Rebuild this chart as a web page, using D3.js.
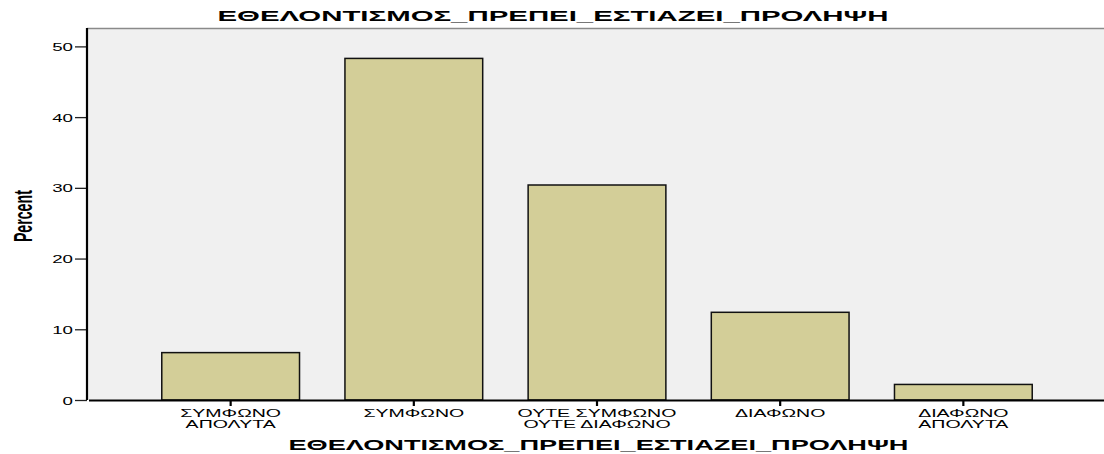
<!DOCTYPE html>
<html>
<head>
<meta charset="utf-8">
<script src="https://cdn.jsdelivr.net/npm/d3@7"></script>
<style>
  body { margin: 0; background: #fff; }
  text { font-family: "Liberation Sans", Arial, sans-serif; fill: #000; }
</style>
</head>
<body>
<div id="wrapper"></div>
<script>
const categories = [
  ["ΣΥΜΦΩΝΟ", "ΑΠΟΛΥΤΑ"],
  ["ΣΥΜΦΩΝΟ"],
  ["ΟΥΤΕ ΣΥΜΦΩΝΟ", "ΟΥΤΕ ΔΙΑΦΩΝΟ"],
  ["ΔΙΑΦΩΝΟ"],
  ["ΔΙΑΦΩΝΟ", "ΑΠΟΛΥΤΑ"],
];
const percents = [6.7, 48.3, 30.4, 12.4, 2.2];
const yTicks = [0, 10, 20, 30, 40, 50];
const chartTitle = "ΕΘΕΛΟΝΤΙΣΜΟΣ_ΠΡΕΠΕΙ_ΕΣΤΙΑΖΕΙ_ΠΡΟΛΗΨΗ";
const yLabel = "Percent";

function drawBarChart() {
  //* Step 1. Access data
  const dataset = categories.map((c, i) => ({ key: c.join(" / "), lines: c, value: percents[i] }));
  const xAccessor = (d) => d.key;
  const yAccessor = (d) => d.value;

  //* Step 2. Chart dimensions
  const dimensions = {
    width: 1104,
    height: 454,
    margin: { top: 28, right: 0, bottom: 54, left: 87 },
  };
  dimensions.boundedWidth = dimensions.width - dimensions.margin.left - dimensions.margin.right;
  dimensions.boundedHeight = dimensions.height - dimensions.margin.top - dimensions.margin.bottom;

  // the original export is stretched sideways, so text is too
  const stretch = 1.7;

  //* Step 3. Draw canvas
  const wrapper = d3.select("#wrapper")
    .append("svg")
    .attr("width", dimensions.width)
    .attr("height", dimensions.height);

  const bounds = wrapper.append("g")
    .attr("transform", `translate(${dimensions.margin.left},${dimensions.margin.top})`);

  bounds.append("rect")
    .attr("width", dimensions.boundedWidth)
    .attr("height", dimensions.boundedHeight)
    .attr("fill", "#f0f0f0");

  bounds.append("line")
    .attr("x1", 0).attr("x2", dimensions.boundedWidth)
    .attr("y1", 0.5).attr("y2", 0.5)
    .attr("stroke", "#8a8a8a")
    .attr("stroke-width", 1.5);

  //* Step 4. Scales
  const yScale = d3.scaleLinear()
    .domain([0, 52.6])
    .range([dimensions.boundedHeight, 0]);

  const xScale = d3.scaleBand()
    .domain(dataset.map(xAccessor))
    .range([1.5, dimensions.boundedWidth + 1.5])
    .paddingInner(0.248)
    .paddingOuter(0.4);

  //* Step 5. Draw data
  bounds.append("g")
    .selectAll("rect")
    .data(dataset)
    .join("rect")
    .attr("x", (d) => xScale(xAccessor(d)))
    .attr("y", (d) => yScale(yAccessor(d)))
    .attr("width", xScale.bandwidth())
    .attr("height", (d) => dimensions.boundedHeight - yScale(yAccessor(d)))
    .attr("fill", "#d3ce98")
    .attr("stroke", "#111")
    .attr("stroke-width", 1.5);

  //* Step 6. Peripherals
  const yAxis = bounds.append("g")
    .call(d3.axisLeft(yScale).tickValues(yTicks).tickSize(12).tickSizeOuter(0).tickFormat(d3.format("d")));
  yAxis.select(".domain").remove();
  yAxis.selectAll(".tick line").attr("stroke", "#222").attr("stroke-width", 1.3);
  yAxis.selectAll(".tick text")
    .attr("font-size", 11)
    .attr("font-family", null)
    .attr("x", null)
    .attr("dy", null)
    .attr("transform", `translate(-14,4) scale(${stretch},1)`);

  bounds.append("line")
    .attr("x1", 0).attr("x2", 0)
    .attr("y1", 0).attr("y2", dimensions.boundedHeight)
    .attr("stroke", "#000")
    .attr("stroke-width", 2.2);

  const xAxis = bounds.append("g")
    .attr("transform", `translate(0,${dimensions.boundedHeight})`)
    .call(d3.axisBottom(xScale).tickSize(6).tickSizeOuter(0).tickFormat(""));
  xAxis.select(".domain").attr("stroke", "#000").attr("stroke-width", 1.8);
  xAxis.selectAll(".tick line").attr("stroke", "#000").attr("stroke-width", 2.2);
  xAxis.selectAll(".tick text").remove();

  const labelGroups = xAxis.selectAll(".tick")
    .append("g")
    .attr("transform", `scale(${stretch},1)`);
  labelGroups.each(function (key) {
    const d = dataset.find((e) => e.key === key);
    d3.select(this).selectAll("text")
      .data(d.lines)
      .join("text")
      .attr("text-anchor", "middle")
      .attr("font-size", 11.5)
      .attr("y", (l, i) => 17 + i * 11)
      .text((l) => l);
  });

  wrapper.append("text")
    .attr("x", dimensions.width / 2 + 1)
    .attr("y", 21)
    .attr("text-anchor", "middle")
    .attr("font-size", 14)
    .attr("font-weight", "bold")
    .attr("textLength", 671)
    .attr("lengthAdjust", "spacingAndGlyphs")
    .text(chartTitle);

  wrapper.append("text")
    .attr("x", dimensions.margin.left + dimensions.boundedWidth / 2 + 3)
    .attr("y", 450)
    .attr("text-anchor", "middle")
    .attr("font-size", 14)
    .attr("font-weight", "bold")
    .attr("textLength", 620)
    .attr("lengthAdjust", "spacingAndGlyphs")
    .text(chartTitle);

  wrapper.append("text")
    .attr("transform", `translate(32,${dimensions.margin.top + yScale(26)}) scale(1.9,1) rotate(-90)`)
    .attr("text-anchor", "middle")
    .attr("font-size", 14)
    .attr("font-weight", "bold")
    .attr("textLength", 52)
    .attr("lengthAdjust", "spacingAndGlyphs")
    .text(yLabel);
}
drawBarChart();
</script>
</body>
</html>
